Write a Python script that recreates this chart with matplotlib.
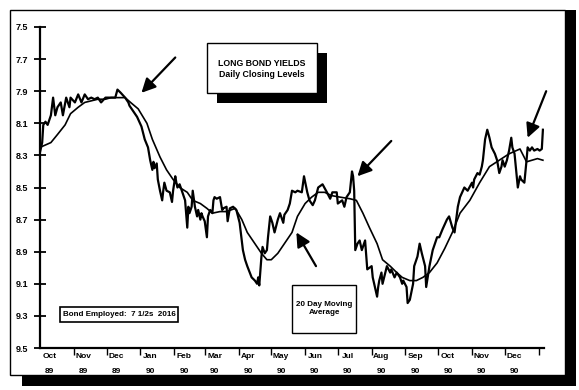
import matplotlib
matplotlib.use('Agg')
import matplotlib.pyplot as plt
from matplotlib.patches import Rectangle
import pandas as pd

plt.rcParams['font.family'] = ['Liberation Sans', 'DejaVu Sans']
plt.rcParams['font.weight'] = 'bold'

# days counted from 1 Oct 1989
daily_day = [0, 2, 3, 5, 7, 10, 12, 14, 16, 19, 21, 24, 27, 28, 32, 35, 38, 41, 44, 47,
             50, 53, 56, 60, 62, 65, 69, 71, 74, 78, 81, 82, 89, 93, 96, 99, 101, 103, 104, 105,
             107, 108, 110, 112, 113, 114, 116, 119, 121, 122, 124, 125, 126, 128, 130, 133, 135, 136, 137, 139,
             140, 142, 144, 145, 147, 148, 149, 151, 153, 154, 156, 158, 159, 160, 162, 165, 167, 168, 171, 172,
             174, 177, 180, 183, 186, 188, 190, 194, 197, 199, 200, 201, 203, 204, 206, 208, 209, 211, 213, 215,
             218, 220, 223, 224, 227, 229, 231, 234, 236, 240, 242, 245, 247, 250, 252, 255, 259, 263, 266, 268,
             272, 273, 277, 279, 281, 284, 286, 287, 288, 289, 291, 293, 295, 296, 298, 300, 304, 305, 309, 310,
             311, 313, 314, 318, 321, 322, 325, 327, 330, 332, 333, 336, 337, 339, 342, 343, 346, 348, 350, 353,
             354, 357, 360, 364, 366, 369, 373, 375, 378, 380, 383, 385, 387, 389, 392, 396, 397, 398, 401, 403,
             405, 406, 408, 410, 412, 414, 417, 419, 421, 423, 424, 426, 428, 430, 432, 433, 435, 437, 438, 440,
             441, 444, 446, 447, 449, 451, 453, 456, 458, 460, 461]
daily_yield = [8.28, 8.22, 8.11, 8.09, 8.11, 8.05, 7.94, 8.05, 8.00, 7.97, 8.05, 7.94, 8.00, 7.94, 7.97, 7.92, 7.97, 7.92, 7.95, 7.94,
               7.95, 7.94, 7.97, 7.94, 7.94, 7.94, 7.94, 7.89, 7.91, 7.94, 7.97, 7.99, 8.06, 8.12, 8.20, 8.25, 8.33, 8.39, 8.34, 8.38,
               8.35, 8.45, 8.52, 8.58, 8.52, 8.47, 8.52, 8.53, 8.59, 8.52, 8.43, 8.47, 8.50, 8.48, 8.52, 8.58, 8.75, 8.62, 8.66, 8.62,
               8.52, 8.62, 8.68, 8.64, 8.70, 8.66, 8.68, 8.71, 8.81, 8.68, 8.64, 8.66, 8.58, 8.56, 8.57, 8.56, 8.64, 8.63, 8.62, 8.71,
               8.63, 8.62, 8.64, 8.72, 8.89, 8.95, 8.99, 9.06, 9.08, 9.10, 9.06, 9.11, 8.93, 8.87, 8.91, 8.89, 8.81, 8.68, 8.72, 8.78,
               8.70, 8.66, 8.72, 8.67, 8.64, 8.60, 8.52, 8.53, 8.52, 8.53, 8.43, 8.53, 8.58, 8.61, 8.58, 8.50, 8.48, 8.53, 8.57, 8.53,
               8.53, 8.60, 8.58, 8.62, 8.56, 8.53, 8.40, 8.43, 8.52, 8.89, 8.85, 8.83, 8.89, 8.87, 8.83, 9.01, 8.99, 9.06, 9.18, 9.12,
               9.08, 9.03, 9.10, 8.99, 9.03, 9.01, 9.06, 9.03, 9.06, 9.10, 9.08, 9.12, 9.22, 9.20, 9.10, 8.99, 8.93, 8.85, 8.91, 8.99,
               9.12, 8.99, 8.89, 8.81, 8.81, 8.76, 8.70, 8.68, 8.75, 8.78, 8.62, 8.56, 8.53, 8.50, 8.52, 8.47, 8.50, 8.45, 8.41, 8.42,
               8.37, 8.33, 8.20, 8.14, 8.19, 8.25, 8.29, 8.33, 8.41, 8.37, 8.33, 8.37, 8.33, 8.27, 8.19, 8.25, 8.29, 8.43, 8.50, 8.43,
               8.45, 8.47, 8.33, 8.25, 8.27, 8.25, 8.27, 8.26, 8.27, 8.26, 8.14]

ma_day = [0, 10, 16, 23, 28, 35, 41, 47, 53, 60, 65, 71, 78, 83, 90, 98, 103, 110, 116, 122,
          128, 135, 140, 147, 153, 158, 165, 171, 179, 185, 190, 197, 203, 208, 212, 218, 224, 231, 236, 243,
          249, 255, 261, 267, 275, 284, 290, 296, 302, 309, 314, 321, 327, 332, 339, 345, 351, 357, 364, 371,
          378, 385, 394, 403, 412, 421, 430, 440, 446, 451, 456, 461]
ma_yield = [8.25, 8.22, 8.17, 8.11, 8.04, 8.00, 7.97, 7.96, 7.95, 7.95, 7.94, 7.94, 7.94, 7.97, 8.01, 8.10, 8.20, 8.31, 8.39, 8.45,
            8.50, 8.53, 8.58, 8.60, 8.63, 8.66, 8.65, 8.65, 8.63, 8.70, 8.78, 8.85, 8.91, 8.95, 8.95, 8.91, 8.85, 8.78, 8.68, 8.60,
            8.56, 8.53, 8.53, 8.55, 8.56, 8.57, 8.58, 8.66, 8.75, 8.85, 8.95, 8.99, 9.03, 9.06, 9.08, 9.08, 9.06, 9.03, 8.97, 8.88,
            8.78, 8.66, 8.58, 8.47, 8.37, 8.33, 8.29, 8.26, 8.34, 8.33, 8.32, 8.33]

month_names = ['Oct', 'Nov', 'Dec', 'Jan', 'Feb', 'Mar', 'Apr', 'May', 'Jun', 'Jul', 'Aug', 'Sep', 'Oct', 'Nov', 'Dec']
year_names = ['89', '89', '89', '90', '90', '90', '90', '90', '90', '90', '90', '90', '90', '90', '90']
y_ticks = [7.5, 7.7, 7.9, 8.1, 8.3, 8.5, 8.7, 8.9, 9.1, 9.3, 9.5]

W, H = 579, 390


def fxy(x, y):
    # pixel position -> figure fraction
    return x / W, 1 - y / H


fig = plt.figure(figsize=(W / 100, H / 100), dpi=100)
ax = fig.add_axes([40 / W, 1 - 348 / H, 504 / W, 321 / H])

ax.plot(daily_day, daily_yield, color='black', lw=1.6, solid_joinstyle='round')
ax.plot(ma_day, ma_yield, color='black', lw=1.2)

ax.set_ylim(9.5, 7.5)
ax.set_xlim(0, 462)
for s in ['top', 'right']:
    ax.spines[s].set_visible(False)
ax.spines['left'].set_linewidth(1.6)
ax.spines['bottom'].set_linewidth(1.6)

ax.set_yticks(y_ticks)
ax.set_yticklabels(['%.1f' % v for v in y_ticks], fontsize=6.5, fontweight='bold')
ax.tick_params(axis='y', direction='inout', length=9, width=1.3, pad=4)

start = pd.Timestamp('1989-10-01')
month_starts = pd.date_range('1989-11-01', '1991-01-01', freq='MS')
ax.set_xticks((month_starts - start).days)
ax.set_xticklabels([])
ax.tick_params(axis='x', direction='out', length=5, width=1.0, pad=0)

label_days = (pd.date_range('1989-10-01', '1990-12-01', freq='MS') - start).days + 9
for d, m, yr in zip(label_days, month_names, year_names):
    ax.text(d, -0.028, m, transform=ax.get_xaxis_transform(), ha='center', va='center', fontsize=6)
    ax.text(d, -0.074, yr, transform=ax.get_xaxis_transform(), ha='center', va='center', fontsize=6)

# arrows
arrow_kw = dict(arrowstyle='-|>,head_length=0.7,head_width=0.35', color='black', lw=1.6,
                shrinkA=0, shrinkB=0, mutation_scale=12)
for tail, head in [((124, 7.69), (93, 7.91)), ((322, 8.21), (291, 8.43)),
                   ((253, 8.99), (235, 8.78)), ((464, 7.90), (447, 8.19))]:
    ax.annotate('', xy=head, xytext=tail, arrowprops=arrow_kw, annotation_clip=False)

# outer frame with drop shadow
x0, y0 = fxy(10, 375)
fig.add_artist(Rectangle((x0, y0), 555 / W, 365 / H, transform=fig.transFigure,
                         fill=False, ec='black', lw=1.0))
x0, y0 = fxy(565, 386)
fig.add_artist(Rectangle((x0, y0), 11 / W, 376 / H, transform=fig.transFigure,
                         fc='black', ec='none'))
x0, y0 = fxy(22, 386)
fig.add_artist(Rectangle((x0, y0), 550 / W, 11 / H, transform=fig.transFigure,
                         fc='black', ec='none'))

# title box with shadow
x0, y0 = fxy(217, 103)
fig.add_artist(Rectangle((x0, y0), 110 / W, 50 / H, transform=fig.transFigure, fc='black', ec='none'))
x0, y0 = fxy(207, 93)
fig.add_artist(Rectangle((x0, y0), 110 / W, 50 / H, transform=fig.transFigure, fc='white', ec='black', lw=1.0))
tx, ty = fxy(262, 69)
fig.text(tx, ty, 'LONG BOND YIELDS\nDaily Closing Levels', ha='center', va='center',
         fontsize=6.3, fontweight='bold', linespacing=1.15)

# bond box
x0, y0 = fxy(60, 322)
fig.add_artist(Rectangle((x0, y0), 118 / W, 15 / H, transform=fig.transFigure, fc='white', ec='black', lw=1.2))
tx, ty = fxy(119, 315)
fig.text(tx, ty, 'Bond Employed:  7 1/2s  2016', ha='center', va='center', fontsize=5.8, fontweight='bold')

# moving average box
x0, y0 = fxy(292, 333)
fig.add_artist(Rectangle((x0, y0), 64 / W, 48 / H, transform=fig.transFigure, fc='white', ec='black', lw=1.0))
tx, ty = fxy(324, 308)
fig.text(tx, ty, '20 Day Moving\nAverage', ha='center', va='center', fontsize=5.8,
         fontweight='bold', linespacing=1.2)

fig.savefig('out.png', dpi=100)
